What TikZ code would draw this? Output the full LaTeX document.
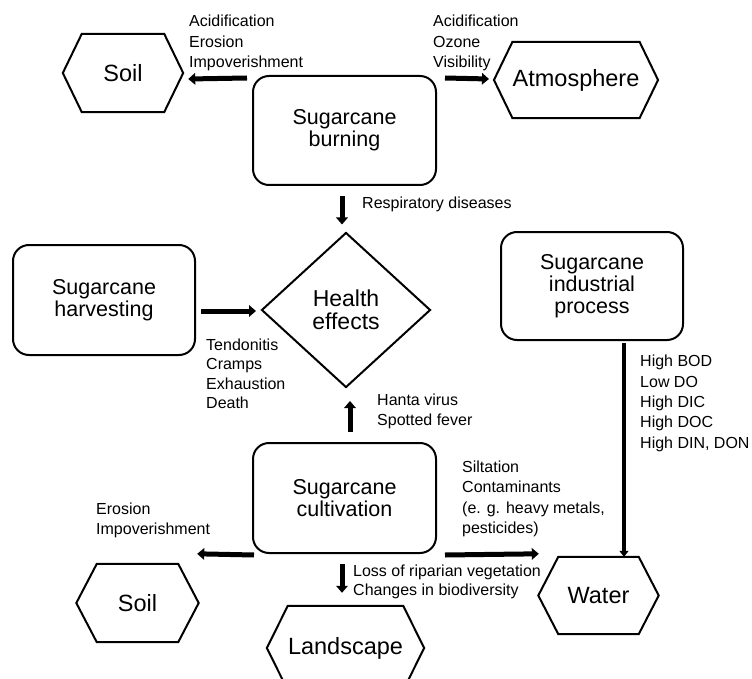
\documentclass[tikz,border=0pt]{standalone}
\usepackage{fontspec}
\setmainfont{Liberation Sans}
\usetikzlibrary{shapes.geometric,arrows.meta}
\tikzset{
  procbox/.style={draw, line width=2pt, rounded corners=16pt, minimum width=183pt, minimum height=109pt, align=center, inner sep=0pt, font=\fontsize{21.5}{22}\selectfont},
  hexlbl/.style={inner sep=0pt, font=\fontsize{23.5}{23.5}\selectfont},
  hexline/.style={line width=2pt, line join=miter},
  bigarrow/.style={line width=5pt, -{Triangle[length=7pt,width=11.5pt]}},
  lbl/.style={anchor=base west, align=left, inner sep=0pt, font=\fontsize{16}{20.5}\selectfont},
}
\newcommand\hexo[2]{\draw[hexline] (#1.north west) -- (#1.north east) -- ([xshift=#2pt]#1.east) -- (#1.south east) -- (#1.south west) -- ([xshift=-#2pt]#1.west) -- cycle;}
\begin{document}
\begin{tikzpicture}[x=1pt,y=-1pt]
\useasboundingbox (0,0) rectangle (752,679);
\clip (0,0) rectangle (752,679);
% process boxes
\node[procbox] (burn) at (344.5,130.5) {Sugarcane\\burning};
\node[procbox, minimum width=182pt, minimum height=110pt] (harv) at (104,300) {Sugarcane\\harvesting};
\node[procbox, minimum width=182pt, minimum height=108pt] (ind) at (592,286) {Sugarcane\\industrial\\process};
\node[procbox, minimum height=110pt] (cult) at (344.5,498) {Sugarcane\\cultivation};
% health diamond
\node[diamond, draw, line width=2pt, minimum width=169pt, minimum height=155pt, inner sep=0pt, align=center, font=\fontsize{23}{23}\selectfont] (health) at (346,310) {Health\\effects};
% hexagons
\node[hexlbl, minimum width=82pt, minimum height=78pt] (soilA) at (123,73) {Soil};
\hexo{soilA}{19}
\node[hexlbl, minimum width=113pt, minimum height=76pt] (atm) at (576,80) {Atmosphere};
\hexo{atm}{18.5}
\node[hexlbl, minimum width=80pt, minimum height=77pt] (water) at (598.5,595.5) {Water};
\hexo{water}{20}
\node[hexlbl, minimum width=81pt, minimum height=78pt] (soilB) at (137.5,603) {Soil};
\hexo{soilB}{20.5}
\node[hexlbl, minimum width=105pt, minimum height=84pt] (land) at (345.5,648) {Landscape};
\hexo{land}{21}
% arrows
\draw[bigarrow] ([shift={(-5,3)}]burn.north west) -- ([shift={(24,6)}]soilA.east);
\draw[bigarrow] ([shift={(8,3)}]burn.north east) -- ([shift={(-23.5,-1)}]atm.west);
\draw[bigarrow] ([shift={(-2.5,10)}]burn.south) -- ([shift={(-4,-7)}]health.north);
\draw[bigarrow] ([shift={(5,11)}]harv.east) -- ([shift={(-4.5,1)}]health.west);
\draw[bigarrow] ([shift={(5.5,-10)}]cult.north) -- ([shift={(4,12.5)}]health.south);
\draw[line width=4pt, -{Triangle[length=6pt,width=9pt]}] ([shift={(32,2)}]ind.south) -- ([shift={(25.5,0)}]water.north);
\draw[bigarrow] ([shift={(8,1)}]cult.south east) -- ([shift={(-19.5,-3)}]water.north west);
\draw[bigarrow] ([shift={(2,1)}]cult.south west) -- ([shift={(19,-10)}]soilB.north east);
\draw[bigarrow] ([shift={(-2.5,10)}]cult.south) -- ([shift={(-3.5,-13)}]land.north);
% labels (anchor = baseline of last line)
\node[lbl] (l1) at (189,68) {Acidification\\Erosion\\Impoverishment};
\node[lbl] (l2) at (433,68) {Acidification\\Ozone\\Visibility};
\node[lbl] (l3) at (362,208) {Respiratory diseases};
\node[lbl, font=\fontsize{16}{19.5}\selectfont] (l4) at (206,408.5) {Tendonitis\\Cramps\\Exhaustion\\Death};
\node[lbl] (l5) at (377,425.5) {Hanta virus\\Spotted fever};
\node[lbl, font=\fontsize{16}{20.3}\selectfont] (l6) at (640,448) {High BOD\\Low DO\\High DIC\\High DOC\\High DIN, DON};
\node[lbl] (l7) at (462,533.5) {Siltation\\Contaminants\\(e. g. heavy metals,\\pesticides)};
\node[lbl] (l8) at (96,534.5) {Erosion\\Impoverishment};
\node[lbl, font=\fontsize{16}{19}\selectfont] (l9) at (353,595) {Loss of riparian vegetation\\Changes in biodiversity};
\end{tikzpicture}
\end{document}
